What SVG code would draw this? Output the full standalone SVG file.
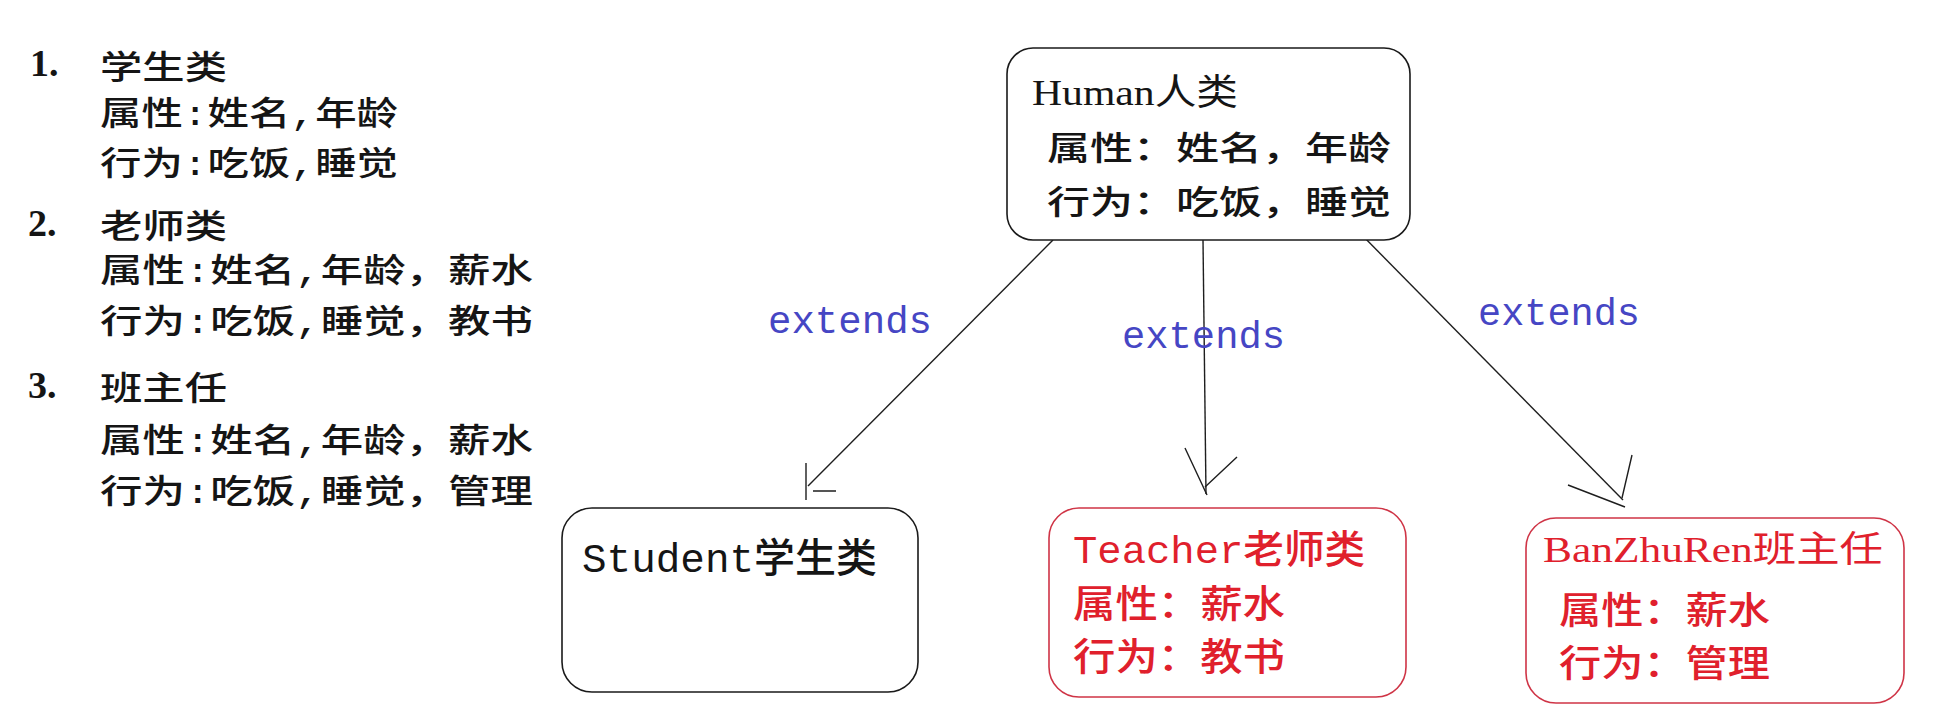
<svg xmlns="http://www.w3.org/2000/svg" width="1960" height="713" viewBox="0 0 1960 713">
<style>
.cjk{font-family:"Liberation Mono","Noto Sans CJK SC",monospace;fill:#151515;font-weight:500;}
.num{font-family:"Liberation Serif","Noto Sans CJK SC",serif;font-size:38px;font-weight:bold;fill:#151515;}
.list{font-size:33px;}
.box{fill:#ffffff;stroke:#1a1a1a;stroke-width:1.6;}
.rbox{fill:#ffffff;stroke:#cf3446;stroke-width:1.6;}
.serif{font-family:"Liberation Serif","Noto Sans CJK SC",serif;}
.mono{font-family:"Liberation Mono","Noto Sans CJK SC",monospace;font-weight:500;}
.red{fill:#e0202c;}
.blk{fill:#151515;}
.edge{fill:none;stroke:#1e1e1e;stroke-width:1.4;}
.lbl{font-family:"Liberation Mono",monospace;font-size:38px;fill:#4646c4;}
</style>

<g id="spec-list">
  <text class="num" x="30" y="76">1.</text>
  <text class="cjk list" x="100" y="79" textLength="127" lengthAdjust="spacingAndGlyphs">学生类</text>
  <text class="cjk list" x="100" y="125" textLength="298" lengthAdjust="spacingAndGlyphs">属性:姓名,年龄</text>
  <text class="cjk list" x="100" y="175" textLength="298" lengthAdjust="spacingAndGlyphs">行为:吃饭,睡觉</text>
  <text class="num" x="28" y="236">2.</text>
  <text class="cjk list" x="100" y="238" textLength="127" lengthAdjust="spacingAndGlyphs">老师类</text>
  <text class="cjk list" x="100" y="282" textLength="433" lengthAdjust="spacingAndGlyphs">属性:姓名,年龄，薪水</text>
  <text class="cjk list" x="100" y="333" textLength="433" lengthAdjust="spacingAndGlyphs">行为:吃饭,睡觉，教书</text>
  <text class="num" x="28" y="398">3.</text>
  <text class="cjk list" x="100" y="400" textLength="127" lengthAdjust="spacingAndGlyphs">班主任</text>
  <text class="cjk list" x="100" y="452" textLength="433" lengthAdjust="spacingAndGlyphs">属性:姓名,年龄，薪水</text>
  <text class="cjk list" x="100" y="503" textLength="433" lengthAdjust="spacingAndGlyphs">行为:吃饭,睡觉，管理</text>
</g>

<g id="connectors">
  <path class="edge" d="M1053,240 L808,486"/>
  <path class="edge" d="M806,463 L806,500 M813,491 L836,491"/>
  <path class="edge" d="M1203,240 L1206,494"/>
  <path class="edge" d="M1185,448 L1207,495 M1237,457 L1205,487"/>
  <path class="edge" d="M1357,230 L1623,500"/>
  <path class="edge" d="M1632,455 L1622,498 M1568,485 L1625,507"/>
  <text class="lbl" x="768" y="333" textLength="164" lengthAdjust="spacingAndGlyphs">extends</text>
  <text class="lbl" x="1122" y="348" textLength="163" lengthAdjust="spacingAndGlyphs">extends</text>
  <text class="lbl" x="1478" y="325" textLength="162" lengthAdjust="spacingAndGlyphs">extends</text>
</g>

<g id="node-human">
  <rect class="box" x="1007" y="48" width="403" height="192" rx="26" ry="26"/>
  <text class="serif blk" x="1032" y="105" font-size="36" textLength="206" lengthAdjust="spacingAndGlyphs">Human人类</text>
  <text class="cjk" x="1047" y="160" font-size="33" textLength="344" lengthAdjust="spacingAndGlyphs">属性：姓名，年龄</text>
  <text class="cjk" x="1047" y="214" font-size="33" textLength="344" lengthAdjust="spacingAndGlyphs">行为：吃饭，睡觉</text>
</g>

<g id="node-student">
  <rect class="box" x="562" y="508" width="356" height="184" rx="30" ry="30"/>
  <text class="mono blk" x="582" y="572" font-size="40" textLength="295" lengthAdjust="spacingAndGlyphs">Student学生类</text>
</g>

<g id="node-teacher">
  <rect class="rbox" x="1049" y="508" width="357" height="189" rx="30" ry="30"/>
  <text class="mono red" x="1073" y="563" font-size="39" textLength="292" lengthAdjust="spacingAndGlyphs">Teacher老师类</text>
  <text class="mono red" x="1073" y="617" font-size="38" textLength="212" lengthAdjust="spacingAndGlyphs">属性：薪水</text>
  <text class="mono red" x="1073" y="670" font-size="38" textLength="212" lengthAdjust="spacingAndGlyphs">行为：教书</text>
</g>

<g id="node-banzhuren">
  <rect class="rbox" x="1526" y="518" width="378" height="185" rx="30" ry="30"/>
  <text class="serif red" x="1543" y="562" font-size="36" textLength="340" lengthAdjust="spacingAndGlyphs">BanZhuRen班主任</text>
  <text class="mono red" x="1559" y="624" font-size="37" textLength="211" lengthAdjust="spacingAndGlyphs">属性：薪水</text>
  <text class="mono red" x="1559" y="677" font-size="37" textLength="211" lengthAdjust="spacingAndGlyphs">行为：管理</text>
</g>
</svg>
